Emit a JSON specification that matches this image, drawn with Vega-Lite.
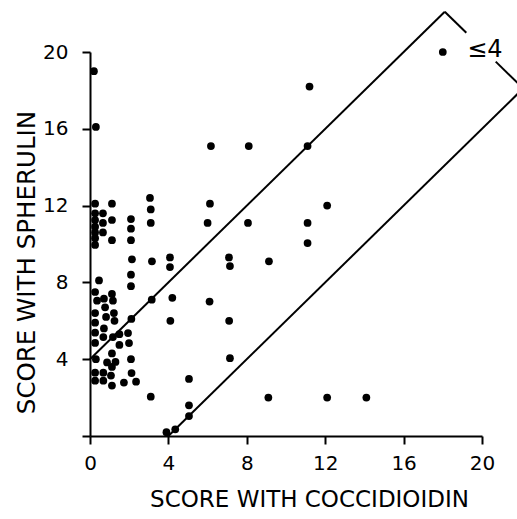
{
  "$schema": "https://vega.github.io/schema/vega-lite/v6.json",
  "width": 392,
  "height": 384,
  "autosize": {"type": "none"},
  "padding": {"left": 90, "top": 52, "right": 35, "bottom": 83},
  "background": "white",
  "config": {
    "view": {"stroke": null},
    "font": "DejaVu Sans",
    "axis": {
      "grid": false,
      "domainColor": "black",
      "domainWidth": 2,
      "tickColor": "black",
      "tickWidth": 2,
      "tickSize": 8,
      "labelColor": "black",
      "labelFont": "DejaVu Sans",
      "labelFontSize": 20,
      "titleColor": "black",
      "titleFont": "DejaVu Sans",
      "titleFontSize": 23,
      "titleFontWeight": "normal"
    }
  },
  "datasets": {
    "pts": [
      {"x": 0.2, "y": 19.0}, {"x": 0.3, "y": 16.1},
      {"x": 0.26, "y": 12.1}, {"x": 1.12, "y": 12.1}, {"x": 0.26, "y": 11.6}, {"x": 0.66, "y": 11.6},
      {"x": 0.26, "y": 11.25}, {"x": 0.26, "y": 10.9}, {"x": 0.26, "y": 10.6}, {"x": 0.26, "y": 10.3},
      {"x": 0.26, "y": 9.95}, {"x": 0.66, "y": 11.1}, {"x": 0.66, "y": 10.6}, {"x": 1.12, "y": 11.25},
      {"x": 1.12, "y": 10.2},
      {"x": 2.09, "y": 11.3}, {"x": 2.09, "y": 10.8}, {"x": 2.09, "y": 10.2}, {"x": 2.14, "y": 9.2},
      {"x": 2.09, "y": 8.4}, {"x": 2.09, "y": 7.8},
      {"x": 3.06, "y": 12.4}, {"x": 3.1, "y": 11.8}, {"x": 3.1, "y": 11.1}, {"x": 3.16, "y": 9.1},
      {"x": 4.08, "y": 9.3}, {"x": 4.08, "y": 8.8},
      {"x": 6.12, "y": 12.1}, {"x": 6.0, "y": 11.1}, {"x": 6.17, "y": 15.1}, {"x": 8.1, "y": 15.1},
      {"x": 8.06, "y": 11.1}, {"x": 7.09, "y": 9.3}, {"x": 7.14, "y": 8.85}, {"x": 9.13, "y": 9.1},
      {"x": 11.2, "y": 18.2}, {"x": 11.1, "y": 15.1}, {"x": 11.1, "y": 11.1}, {"x": 11.1, "y": 10.05},
      {"x": 12.1, "y": 12.0}, {"x": 18.0, "y": 20.0},
      {"x": 3.15, "y": 7.1}, {"x": 4.2, "y": 7.2}, {"x": 6.1, "y": 7.0}, {"x": 4.1, "y": 6.0},
      {"x": 7.1, "y": 6.0}, {"x": 7.14, "y": 4.05}, {"x": 5.05, "y": 2.97}, {"x": 3.1, "y": 2.05},
      {"x": 5.05, "y": 1.6}, {"x": 5.05, "y": 1.04}, {"x": 3.9, "y": 0.2}, {"x": 4.35, "y": 0.35},
      {"x": 9.1, "y": 2.0}, {"x": 12.1, "y": 2.0}, {"x": 14.1, "y": 2.0},
      {"x": 0.46, "y": 8.1}, {"x": 0.26, "y": 7.5}, {"x": 1.12, "y": 7.4}, {"x": 0.36, "y": 7.05},
      {"x": 0.71, "y": 7.15}, {"x": 1.17, "y": 7.05}, {"x": 0.77, "y": 6.7}, {"x": 0.26, "y": 6.4},
      {"x": 1.22, "y": 6.4}, {"x": 0.82, "y": 6.2}, {"x": 1.25, "y": 6.0}, {"x": 0.26, "y": 5.9},
      {"x": 0.71, "y": 5.6}, {"x": 2.11, "y": 6.1}, {"x": 0.26, "y": 5.38}, {"x": 0.68, "y": 5.15},
      {"x": 1.17, "y": 5.15}, {"x": 1.5, "y": 5.3}, {"x": 1.94, "y": 5.36}, {"x": 0.26, "y": 4.85},
      {"x": 1.5, "y": 4.74}, {"x": 1.99, "y": 4.84}, {"x": 1.12, "y": 4.3}, {"x": 0.3, "y": 4.0},
      {"x": 2.09, "y": 4.0}, {"x": 0.87, "y": 3.83}, {"x": 1.3, "y": 3.86}, {"x": 1.12, "y": 3.6},
      {"x": 0.26, "y": 3.3}, {"x": 0.68, "y": 3.3}, {"x": 1.07, "y": 3.15}, {"x": 2.12, "y": 3.28},
      {"x": 0.26, "y": 2.88}, {"x": 0.68, "y": 2.88}, {"x": 1.12, "y": 2.63}, {"x": 1.73, "y": 2.78},
      {"x": 2.35, "y": 2.83}
    ],
    "lines": [
      {"seg": "upper", "x": 0, "y": 4},
      {"seg": "upper", "x": 18.1, "y": 22.1},
      {"seg": "lower", "x": 4, "y": 0},
      {"seg": "lower", "x": 22.1, "y": 18.1},
      {"seg": "br1", "x": 18.1, "y": 22.1},
      {"seg": "br1", "x": 19.2, "y": 21.0},
      {"seg": "br2", "x": 20.7, "y": 19.5},
      {"seg": "br2", "x": 22.1, "y": 18.1}
    ],
    "labels": [
      {"x": 20.15, "y": 19.74, "text": "≤4"}
    ]
  },
  "layer": [
    {
      "data": {"name": "lines"},
      "mark": {"type": "line", "color": "black", "strokeWidth": 2, "clip": false},
      "encoding": {
        "x": {
          "field": "x", "type": "quantitative",
          "scale": {"domain": [0, 20], "nice": false, "zero": false},
          "axis": {
            "values": [0, 2, 4, 6, 8, 10, 12, 14, 16, 18, 20],
            "labelExpr": "datum.value % 4 == 0 ? datum.label : ''",
            "labelPadding": 9,
            "labelFlush": false,
            "labelOverlap": false,
            "title": "SCORE WITH COCCIDIOIDIN",
            "titleBaseline": "alphabetic",
            "titleX": 219,
            "titleY": 70
          }
        },
        "y": {
          "field": "y", "type": "quantitative",
          "scale": {"domain": [0, 20], "nice": false, "zero": false},
          "axis": {
            "values": [0, 2, 4, 6, 8, 10, 12, 14, 16, 18, 20],
            "labelExpr": "datum.value % 4 == 0 && datum.value > 0 ? datum.label : ''",
            "labelPadding": 14,
            "labelFlush": false,
            "labelOverlap": false,
            "title": "SCORE WITH SPHERULIN",
            "titleBaseline": "alphabetic",
            "titleAngle": -90,
            "titleFontSize": 24.5,
            "titleX": -56,
            "titleY": 210
          }
        },
        "detail": {"field": "seg"}
      }
    },
    {
      "data": {"name": "pts"},
      "mark": {"type": "circle", "color": "black", "opacity": 1, "size": 60},
      "encoding": {
        "x": {"field": "x", "type": "quantitative"},
        "y": {"field": "y", "type": "quantitative"}
      }
    },
    {
      "data": {"name": "labels"},
      "mark": {"type": "text", "color": "black", "fontSize": 24, "font": "DejaVu Sans", "align": "center", "baseline": "alphabetic"},
      "encoding": {
        "x": {"field": "x", "type": "quantitative"},
        "y": {"field": "y", "type": "quantitative"},
        "text": {"field": "text"}
      }
    }
  ]
}
